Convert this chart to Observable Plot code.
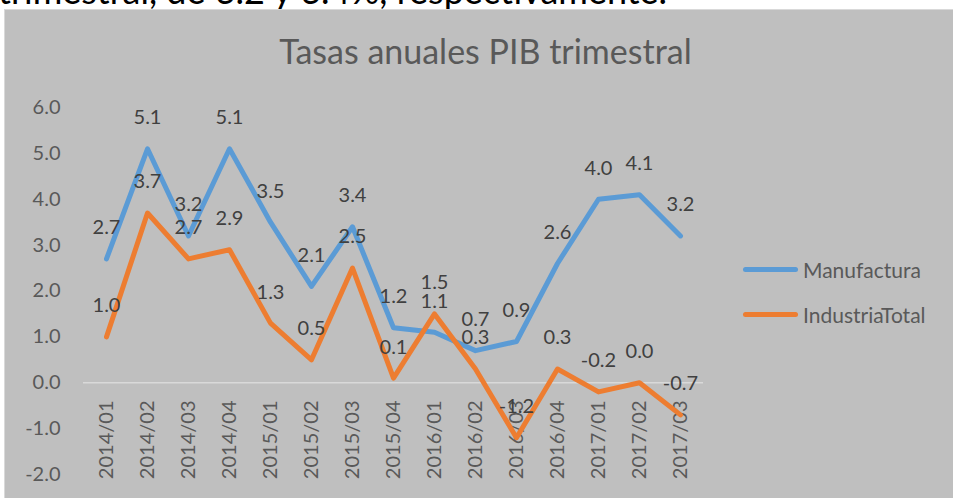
<!DOCTYPE html>
<html>
<head>
<meta charset="utf-8">
<script src="https://cdn.jsdelivr.net/npm/d3@7"></script>
<script src="https://cdn.jsdelivr.net/npm/@observablehq/plot@0.6"></script>
<style>
  html, body { margin: 0; padding: 0; background: #ffffff; width: 953px; height: 498px; overflow: hidden; position: relative; font-family: Lato, "Open Sans", sans-serif; }
  #lead { position: absolute; left: -2px; top: -28px; font-size: 36px; line-height: 36px; color: #000; white-space: nowrap; }
  #box { position: absolute; left: 4px; top: 9px; width: 960px; height: 500px; background: #bfbfbf; border-left: 1px solid #d9d9d9; border-top: 1px solid #d9d9d9; box-sizing: border-box; }
  #chart { position: absolute; left: 0; top: 0; }
  #title { position: absolute; left: 0; width: 971px; top: 34px; text-align: center; font-size: 34px; line-height: 34px; color: #595959; white-space: nowrap; }
  .leg { position: absolute; left: 743px; height: 24px; display: flex; align-items: center; font-size: 21px; color: #595959; white-space: nowrap; }
  .sw { display: inline-block; width: 55px; height: 5px; border-radius: 3px; margin-right: 5px; }
</style>
</head>
<body>
<div id="lead">trimestral, de 6.2 y 6.4%, respectivamente.</div>
<div id="box"></div>
<div id="title">Tasas anuales PIB trimestral</div>
<div id="chart"></div>
<div class="leg" id="leg1" style="top:257px"><span class="sw" style="background:#5b9bd5"></span>Manufactura</div>
<div class="leg" id="leg2" style="top:302px"><span class="sw" style="background:#ed7d31"></span>IndustriaTotal</div>
<script>
const quarters = ["2014/01","2014/02","2014/03","2014/04","2015/01","2015/02","2015/03","2015/04","2016/01","2016/02","2016/03","2016/04","2017/01","2017/02","2017/03"];
const manufactura = [2.7, 5.1, 3.2, 5.1, 3.5, 2.1, 3.4, 1.2, 1.1, 0.7, 0.9, 2.6, 4.0, 4.1, 3.2];
const industriaTotal = [1.0, 3.7, 2.7, 2.9, 1.3, 0.5, 2.5, 0.1, 1.5, 0.3, -1.2, 0.3, -0.2, 0.0, -0.7];
const yTicks = [-2, -1, 0, 1, 2, 3, 4, 5, 6];
const seriesNames = ["Manufactura", "IndustriaTotal"];
const seriesColors = ["#5b9bd5", "#ed7d31"];

const manuData = quarters.map((q, i) => ({q, v: manufactura[i]}));
const indData = quarters.map((q, i) => ({q, v: industriaTotal[i]}));
const fmt = v => (Math.abs(v) < 1e-9 ? 0 : v).toFixed(1);

const chart = Plot.plot({
  width: 953,
  height: 498,
  marginLeft: 83,
  marginRight: 250,
  marginTop: 107,
  marginBottom: 24,
  style: {background: "transparent", fontFamily: "Lato, 'Open Sans', sans-serif", overflow: "visible"},
  x: {type: "point", domain: quarters, padding: 0.5, axis: null},
  y: {domain: [-2, 6], axis: null},
  marks: [
    Plot.ruleY([0], {stroke: "#d9d9d9", strokeWidth: 1.5}),
    Plot.axisY({ticks: yTicks, tickSize: 0, tickPadding: 23, tickFormat: fmt, fontSize: 20, fill: "#595959", label: null}),
    Plot.text(quarters, {x: d => d, frameAnchor: "bottom", dy: -74, rotate: -90, textAnchor: "end", lineAnchor: "middle", fontSize: 20, fill: "#595959"}),
    Plot.line(manuData, {x: "q", y: "v", stroke: seriesColors[0], strokeWidth: 5, strokeLinecap: "round", strokeLinejoin: "round"}),
    Plot.line(indData, {x: "q", y: "v", stroke: seriesColors[1], strokeWidth: 5, strokeLinecap: "round", strokeLinejoin: "round"}),
    Plot.text(manuData, {x: "q", y: "v", text: d => fmt(d.v), dy: -31, fontSize: 20, fill: "#404040"}),
    Plot.text(indData, {x: "q", y: "v", text: d => fmt(d.v), dy: -31, fontSize: 20, fill: "#404040"})
  ]
});
document.getElementById("chart").appendChild(chart);
</script>
</body>
</html>
